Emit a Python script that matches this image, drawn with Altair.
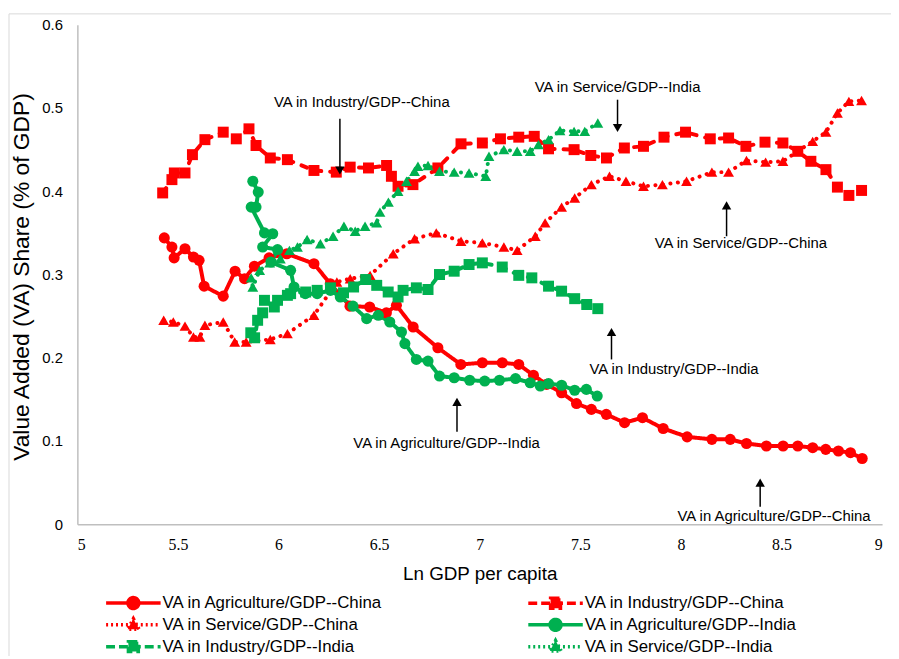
import altair as alt
import pandas as pd

# ---------------- data ----------------
series_names = [
    "VA in Agriculture/GDP--China",
    "VA in Industry/GDP--China",
    "VA in Service/GDP--China",
    "VA in Agriculture/GDP--India",
    "VA in Industry/GDP--India",
    "VA in Service/GDP--India",
]
series_country = ["China", "China", "China", "India", "India", "India"]
series_kind = ["Agriculture", "Industry", "Service", "Agriculture", "Industry", "Service"]
# order in which the legend lists them (filled column by column)
legend_order = [0, 2, 4, 1, 3, 5]

china_agri_x = [5.432, 5.47, 5.481, 5.535, 5.577, 5.605, 5.63, 5.725, 5.784, 5.831, 5.88, 5.953,
                6.041, 6.176, 6.257, 6.355, 6.453, 6.536, 6.586, 6.669, 6.792, 6.906, 7.013, 7.112,
                7.194, 7.267, 7.333, 7.407, 7.481, 7.555, 7.629, 7.72, 7.809, 7.912, 8.031, 8.154,
                8.245, 8.326, 8.425, 8.508, 8.581, 8.655, 8.72, 8.783, 8.843, 8.901]
china_agri_y = [0.344, 0.333, 0.320, 0.331, 0.321, 0.317, 0.286, 0.274, 0.304, 0.295, 0.310, 0.320,
                0.325, 0.313, 0.289, 0.262, 0.261, 0.254, 0.263, 0.237, 0.212, 0.192, 0.194, 0.194,
                0.192, 0.179, 0.168, 0.158, 0.145, 0.138, 0.132, 0.122, 0.128, 0.115, 0.105, 0.102,
                0.102, 0.097, 0.094, 0.094, 0.094, 0.092, 0.090, 0.088, 0.086, 0.079]

china_ind_x = [5.424, 5.47, 5.482, 5.535, 5.572, 5.634, 5.725, 5.79, 5.853, 5.888, 5.959, 6.044,
               6.176, 6.287, 6.356, 6.447, 6.537, 6.561, 6.594, 6.668, 6.792, 6.907, 7.013, 7.103,
               7.194, 7.271, 7.342, 7.469, 7.552, 7.63, 7.719, 7.814, 7.916, 8.023, 8.146, 8.237,
               8.323, 8.418, 8.507, 8.581, 8.646, 8.721, 8.778, 8.835, 8.898]
china_ind_y = [0.398, 0.414, 0.422, 0.422, 0.444, 0.462, 0.471, 0.463, 0.475, 0.455, 0.440, 0.438,
               0.425, 0.423, 0.429, 0.428, 0.431, 0.418, 0.406, 0.408, 0.428, 0.457, 0.458, 0.463,
               0.465, 0.466, 0.451, 0.450, 0.443, 0.440, 0.452, 0.454, 0.465, 0.471, 0.463, 0.464,
               0.454, 0.459, 0.458, 0.448, 0.436, 0.426, 0.405, 0.395, 0.401]

china_serv_x = [5.429, 5.477, 5.535, 5.577, 5.609, 5.634, 5.725, 5.782, 5.839, 5.959, 6.044, 6.176,
                6.29, 6.356, 6.455, 6.57, 6.676, 6.784, 6.907, 7.013, 7.12, 7.186, 7.276, 7.325,
                7.407, 7.472, 7.555, 7.645, 7.727, 7.814, 7.908, 8.028, 8.154, 8.237, 8.326, 8.421,
                8.507, 8.581, 8.655, 8.721, 8.778, 8.835, 8.898]
china_serv_y = [0.245, 0.243, 0.238, 0.225, 0.225, 0.239, 0.243, 0.219, 0.219, 0.222, 0.229, 0.251,
                0.291, 0.295, 0.299, 0.325, 0.343, 0.350, 0.340, 0.338, 0.333, 0.329, 0.346, 0.362,
                0.381, 0.392, 0.408, 0.418, 0.412, 0.406, 0.408, 0.412, 0.423, 0.423, 0.437, 0.435,
                0.436, 0.448, 0.460, 0.471, 0.494, 0.508, 0.509]

india_agri_x = [5.872, 5.899, 5.888, 5.864, 5.93, 5.971, 5.921, 5.995, 5.962, 6.06, 6.077, 6.133,
                6.192, 6.258, 6.307, 6.37, 6.438, 6.496, 6.553, 6.611, 6.628, 6.685, 6.743, 6.8,
                6.873, 6.95, 7.025, 7.098, 7.178, 7.251, 7.301, 7.342, 7.407, 7.472, 7.53, 7.584]
india_agri_y = [0.412, 0.399, 0.381, 0.381, 0.350, 0.349, 0.333, 0.330, 0.315, 0.305, 0.285, 0.277,
                0.277, 0.281, 0.273, 0.262, 0.247, 0.251, 0.243, 0.231, 0.217, 0.198, 0.196, 0.178,
                0.176, 0.173, 0.172, 0.173, 0.175, 0.170, 0.166, 0.169, 0.167, 0.161, 0.162, 0.154]

india_ind_x = [5.862, 5.881, 5.896, 5.921, 5.93, 5.979, 5.995, 6.044, 6.06, 6.135, 6.192, 6.258,
               6.323, 6.373, 6.433, 6.488, 6.545, 6.594, 6.619, 6.685, 6.743, 6.8, 6.873, 6.947,
               7.013, 7.112, 7.194, 7.259, 7.342, 7.407, 7.472, 7.532, 7.587]
india_ind_y = [0.230, 0.224, 0.245, 0.254, 0.269, 0.261, 0.269, 0.275, 0.277, 0.279, 0.281, 0.284,
               0.278, 0.285, 0.294, 0.287, 0.279, 0.273, 0.281, 0.284, 0.282, 0.300, 0.304, 0.312,
               0.314, 0.309, 0.299, 0.296, 0.286, 0.280, 0.271, 0.264, 0.259]

india_serv_x = [5.864, 5.872, 5.906, 5.956, 6.009, 6.054, 6.094, 6.142, 6.208, 6.271, 6.325, 6.381,
                6.43, 6.488, 6.504, 6.546, 6.594, 6.636, 6.676, 6.693, 6.743, 6.8, 6.873, 6.947,
                7.03, 7.046, 7.12, 7.186, 7.251, 7.292, 7.342, 7.399, 7.469, 7.522, 7.587]
india_serv_y = [0.296, 0.285, 0.305, 0.314, 0.319, 0.329, 0.333, 0.342, 0.337, 0.346, 0.358, 0.352,
                0.358, 0.362, 0.375, 0.387, 0.400, 0.412, 0.424, 0.430, 0.431, 0.424, 0.423, 0.422,
                0.418, 0.442, 0.450, 0.448, 0.448, 0.456, 0.462, 0.473, 0.472, 0.472, 0.482]

series_x = [china_agri_x, china_ind_x, china_serv_x, india_agri_x, india_ind_x, india_serv_x]
series_y = [china_agri_y, china_ind_y, china_serv_y, india_agri_y, india_ind_y, india_serv_y]

# annotations
ann_text = ["VA in Industry/GDP--China", "VA in Service/GDP--India", "VA in Service/GDP--China",
            "VA in Industry/GDP--India", "VA in Agriculture/GDP--India", "VA in Agriculture/GDP--China"]
ann_x = [6.414, 7.685, 8.298, 7.966, 6.835, 8.463]
ann_y = [0.507, 0.525, 0.338, 0.187, 0.098, 0.0095]
arrow_x = [6.305, 7.685, 8.227, 7.655, 6.887, 8.394]
arrow_y_start = [0.487, 0.510, 0.346, 0.198, 0.111, 0.021]
arrow_y_head = [0.425, 0.476, 0.383, 0.231, 0.147, 0.050]
arrow_dir = ["down", "down", "up", "up", "up", "up"]

x_ticks = [5, 5.5, 6, 6.5, 7, 7.5, 8, 8.5, 9]
y_ticks = [0, 0.1, 0.2, 0.3, 0.4, 0.5, 0.6]

# ---------------- tables ----------------
rows = []
for name, c, k, xs, ys in zip(series_names, series_country, series_kind, series_x, series_y):
    for i, (a, b) in enumerate(zip(xs, ys)):
        rows.append({"series": name, "country": c, "kind": k, "x": a, "y": b, "idx": i})
df = pd.DataFrame(rows)

ann_df = pd.DataFrame({"text": ann_text, "x": ann_x, "y": ann_y})
arr_df = pd.DataFrame({"x": arrow_x, "y": arrow_y_start, "y2": arrow_y_head, "dir": arrow_dir})
arr_head = pd.DataFrame({"x": arrow_x, "y": arrow_y_head, "dir": arrow_dir})
frame_df = pd.DataFrame({"a": [0]})

RED = "#FF0000"
GREEN = "#00B050"
FONT = "Liberation Sans"

x_enc = alt.X("x:Q", scale=alt.Scale(domain=[5, 9], nice=False, zero=False),
              axis=alt.Axis(values=x_ticks, format="~g", labelFont="Liberation Serif",
                            labelFontSize=16, labelColor="black", labelPadding=12,
                            title="Ln GDP per capita", titleFont=FONT, titleFontSize=19,
                            titleFontWeight="normal", titleColor="black",
                            titleY=50, titleBaseline="middle"))
y_enc = alt.Y("y:Q", scale=alt.Scale(domain=[0, 0.6], nice=False),
              axis=alt.Axis(values=y_ticks, format="~g", labelFont=FONT, labelFontSize=15,
                            labelColor="black", labelPadding=15,
                            title="Value Added (VA) Share (% of GDP)", titleFont=FONT,
                            titleFontSize=23, titleFontWeight="normal", titleColor="black",
                            titleX=-56, titleY=254, titleBaseline="middle"))

country_scale = alt.Scale(domain=["China", "India"], range=[RED, GREEN])
kinds = ["Agriculture", "Industry", "Service"]

frame = alt.Chart(frame_df).mark_rect(fill="transparent", stroke="#d9d9d9", strokeWidth=1).encode(
    x=alt.value(-69), x2=alt.value(840), y=alt.value(-11), y2=alt.value(660))

lines = alt.Chart(df).mark_line(strokeCap="round", strokeJoin="round").encode(
    x=x_enc, y=y_enc,
    color=alt.Color("country:N", scale=country_scale, legend=None),
    strokeDash=alt.StrokeDash("kind:N", scale=alt.Scale(domain=kinds, range=[[1, 0], [6, 9], [0.1, 7.5]]),
                              legend=None),
    strokeWidth=alt.StrokeWidth("kind:N", scale=alt.Scale(domain=kinds, range=[4, 4, 3.5]), legend=None),
    order=alt.Order("idx:Q"),
)

points = alt.Chart(df).mark_point(filled=True, opacity=1).encode(
    x=x_enc, y=y_enc,
    color=alt.Color("country:N", scale=country_scale, legend=None),
    shape=alt.Shape("kind:N", scale=alt.Scale(domain=kinds, range=["circle", "square", "triangle-up"]),
                    legend=None),
    size=alt.Size("kind:N", scale=alt.Scale(domain=kinds, range=[125, 120, 140]), legend=None),
)

# legend carrier: combined line + marker symbols
circ = "M-5.5,0L5.5,0M-1.1,0A1.1,1.1,0,1,0,1.1,0A1.1,1.1,0,1,0,-1.1,0Z"
sq = "M-5.5,0L5.5,0M-1,-1L1,-1L1,1L-1,1Z"
tri = "M-5.5,0L5.5,0M0,-1.25L1.15,0.9L-1.15,0.9Z"
shape_of_kind = {"Agriculture": circ, "Industry": sq, "Service": tri}
dash_of_kind = {"Agriculture": [1, 0], "Industry": [9, 4], "Service": [2, 3]}
color_of_country = {"China": RED, "India": GREEN}

lg_domain = [series_names[i] for i in legend_order]
lg_colors = [color_of_country[series_country[i]] for i in legend_order]
lg_shapes = [shape_of_kind[series_kind[i]] for i in legend_order]
lg_dashes = [dash_of_kind[series_kind[i]] for i in legend_order]

lg = alt.Legend(orient="none", legendX=48, legendY=575, columns=2, columnPadding=139,
                rowPadding=-4, labelFont=FONT, labelFontSize=17, labelColor="black",
                labelLimit=500, labelOffset=21, symbolSize=100, symbolStrokeWidth=3.5,
                symbolOpacity=1, title=None, padding=0)

legend_layer = alt.Chart(df).transform_filter("datum.y < -1").mark_point(
    filled=True, opacity=1, strokeWidth=3.5).encode(
    x=x_enc, y=y_enc,
    fill=alt.Fill("series:N", scale=alt.Scale(domain=lg_domain, range=lg_colors), legend=lg),
    stroke=alt.Stroke("series:N", scale=alt.Scale(domain=lg_domain, range=lg_colors), legend=lg),
    shape=alt.Shape("series:N", scale=alt.Scale(domain=lg_domain, range=lg_shapes), legend=lg),
    strokeDash=alt.StrokeDash("series:N", scale=alt.Scale(domain=lg_domain, range=lg_dashes),
                              legend=lg),
)

ann_text_layer = alt.Chart(ann_df).mark_text(font=FONT, fontSize=15, color="black",
                                             align="center", baseline="middle").encode(
    x=x_enc, y=y_enc, text="text:N")

arrow_rules = alt.Chart(arr_df).mark_rule(color="black", strokeWidth=1.5).encode(
    x=x_enc, y=y_enc, y2="y2:Q")

arrow_heads = alt.Chart(arr_head).mark_point(filled=True, opacity=1, color="black", size=90).encode(
    x=x_enc, y=y_enc,
    shape=alt.Shape("dir:N", scale=alt.Scale(domain=["down", "up"], range=["triangle-down", "triangle-up"]),
                    legend=None))

chart = alt.layer(
    frame, lines, points, legend_layer, arrow_rules, arrow_heads, ann_text_layer
).resolve_scale(
    color="independent", shape="independent", strokeDash="independent", size="independent",
    fill="independent", stroke="independent", strokeWidth="independent"
).properties(
    width=812, height=504,
    autosize=alt.AutoSizeParams(type="none"),
    padding={"left": 70, "top": 14, "right": 9, "bottom": 130},
    background="white",
).configure_axis(
    domainColor="#bfbfbf", domainWidth=1.5, ticks=False, grid=False,
).configure_view(
    strokeWidth=0
)

chart.save("out.html", embed_options={"renderer": "svg", "actions": False})
